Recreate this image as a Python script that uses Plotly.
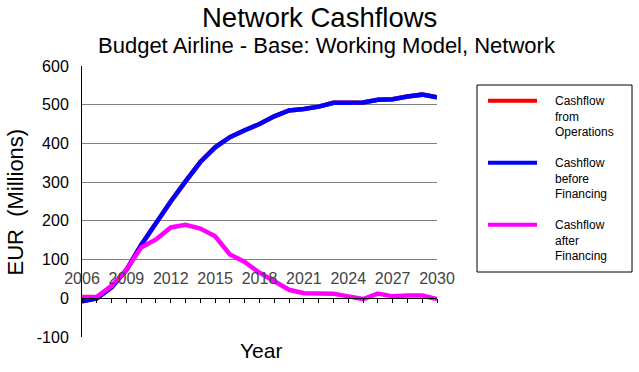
import plotly.graph_objects as go

years = list(range(2006, 2031))
cf_before_financing = [-8, 0, 28, 73, 138, 195, 250, 302, 352, 390, 416, 434, 450, 470,
                       485, 489, 495, 505, 506, 506, 513, 514, 521, 526, 519]
cf_operations = list(cf_before_financing)
cf_after_financing = [3, 4, 32, 74, 131, 152, 183, 190, 180, 160, 113, 94, 66, 44,
                      22, 13, 13, 12, 5, -2, 12, 5, 7, 7, -2]
x_tick_vals = list(range(2006, 2031, 3))
x_tick_labels = [str(y) for y in x_tick_vals]
y_tick_vals = list(range(-100, 601, 100))
y_tick_labels = ["-100", "0", "100", "200", "300", "400", "500", "600"]

series_names = ["Cashflow<br>from<br>Operations",
                "Cashflow<br>before<br>Financing",
                "Cashflow<br>after<br>Financing"]
series_colors = ["#ff0000", "#0000ff", "#ff00ff"]
series_values = [cf_operations, cf_before_financing, cf_after_financing]

FONT = "Arial, Liberation Sans, sans-serif"

fig = go.Figure()
for name, color, vals in zip(series_names, series_colors, series_values):
    fig.add_trace(go.Scatter(x=years, y=vals, mode="lines", name=name,
                             line=dict(color=color, width=4.5), showlegend=False))

W, H = 639, 372
L, T = 82, 66
pw, ph = 355, 271
R = W - L - pw
B = H - T - ph


def px(x):
    return (x - L) / pw


def py(y):
    return (H - B - y) / ph


shapes = [dict(type="rect", xref="paper", yref="paper",
               x0=px(477), x1=px(632), y0=py(85), y1=py(272),
               line=dict(color="black", width=1), fillcolor="white", layer="above")]
annotations = [
    dict(text="Network Cashflows", x=px(319.5), y=py(17.5), xref="paper", yref="paper",
         showarrow=False, xanchor="center", yanchor="middle",
         font=dict(family=FONT, size=27.5)),
    dict(text="Budget Airline - Base: Working Model, Network", x=px(327), y=py(46),
         xref="paper", yref="paper", showarrow=False, xanchor="center",
         yanchor="middle", font=dict(family=FONT, size=22)),
    dict(text="EUR\u00a0\u00a0(Millions)", x=px(14.5), y=py(202), xref="paper", yref="paper",
         showarrow=False, xanchor="center", yanchor="middle", textangle=-90,
         font=dict(family=FONT, size=22)),
    dict(text="Year", x=px(260.5), y=py(350), xref="paper", yref="paper",
         showarrow=False, xanchor="center", yanchor="middle",
         font=dict(family=FONT, size=21)),
]
for i, (name, color) in enumerate(zip(series_names, series_colors)):
    yc = 100.7 + i * 62
    shapes.append(dict(type="line", xref="paper", yref="paper",
                       x0=px(488), x1=px(537), y0=py(yc), y1=py(yc),
                       line=dict(color=color, width=4)))
    annotations.append(dict(text=name, x=px(553), y=py(yc + 16), xref="paper",
                            yref="paper", showarrow=False, xanchor="left",
                            yanchor="middle", align="left",
                            font=dict(family=FONT, size=12)))

fig.update_layout(
    width=W, height=H,
    margin=dict(l=L, r=R, t=T, b=B, pad=0, autoexpand=False),
    paper_bgcolor="white", plot_bgcolor="white",
    font=dict(family=FONT, color="black", size=16),
    showlegend=False,
    xaxis=dict(range=[2006, 2030], anchor="free", position=1/7,
               tickvals=x_tick_vals, ticktext=x_tick_labels,
               ticks="outside", ticklen=4, tickcolor="black", tickwidth=1,
               minor=dict(dtick=1, tick0=2006, ticks="outside", ticklen=4,
                          tickcolor="black", tickwidth=1, showgrid=False),
               ticklabelposition="inside", ticklabeloverflow="allow",
               ticklabelstandoff=11, automargin=False,
               showline=True, linecolor="black", linewidth=1,
               showgrid=False, zeroline=False,
               tickfont=dict(family=FONT, size=16)),
    yaxis=dict(range=[-100, 600], tickvals=y_tick_vals, ticktext=y_tick_labels,
               showline=True, linecolor="black", linewidth=1,
               ticks="", ticklabelstandoff=9, automargin=False,
               showgrid=True, gridcolor="#808080", gridwidth=1,
               zeroline=False, tickfont=dict(family=FONT, size=16)),
    shapes=shapes,
    annotations=annotations,
)

fig.write_html("out.html", config={"displayModeBar": False},
               post_script="document.body.style.margin='0';")
